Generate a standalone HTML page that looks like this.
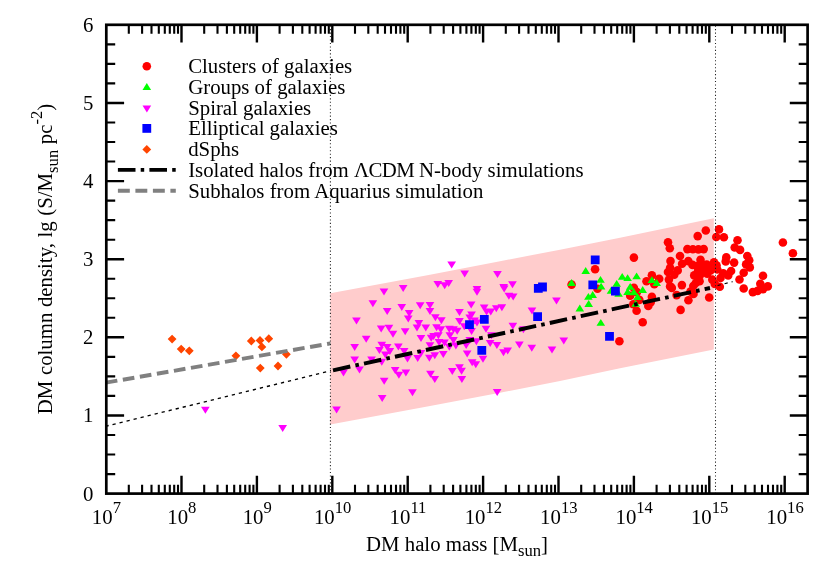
<!DOCTYPE html>
<html><head><meta charset="utf-8"><title>DM column density</title>
<style>
html,body{margin:0;padding:0;background:#fff}
svg{display:block;will-change:transform}
text{font-family:"Liberation Serif",serif;font-size:20.8px;fill:#000}
</style></head><body>
<svg width="830" height="581" viewBox="0 0 830 581">
<rect width="830" height="581" fill="#fff"/>
<polygon points="330.3,293.3 430,274.8 500,261.2 560,249.7 620,237.7 713.8,218.3 713.8,349.5 620,368.2 560,381 500,392.7 430,405.9 330.3,424.6" fill="#ffcccc"/>
<g fill="#ff0000"><circle cx="595.1" cy="269.2" r="4.3"/><circle cx="571.6" cy="284.6" r="4.3"/><circle cx="597.5" cy="288.8" r="4.3"/><circle cx="619.4" cy="341.3" r="4.3"/><circle cx="633.9" cy="257.6" r="4.3"/><circle cx="668" cy="242.2" r="4.3"/><circle cx="669.8" cy="248.3" r="4.3"/><circle cx="705.8" cy="230.5" r="4.3"/><circle cx="697.7" cy="236.1" r="4.3"/><circle cx="719" cy="229.4" r="4.3"/><circle cx="716.3" cy="237" r="4.3"/><circle cx="687.4" cy="249.1" r="4.3"/><circle cx="692.9" cy="249.3" r="4.3"/><circle cx="698.4" cy="249.4" r="4.3"/><circle cx="703.7" cy="249.1" r="4.3"/><circle cx="680" cy="256" r="4.3"/><circle cx="670.5" cy="261.1" r="4.3"/><circle cx="688.3" cy="261.1" r="4.3"/><circle cx="682.1" cy="263.8" r="4.3"/><circle cx="700.5" cy="259.8" r="4.3"/><circle cx="692.5" cy="264.9" r="4.3"/><circle cx="697.1" cy="266.1" r="4.3"/><circle cx="706.8" cy="264.5" r="4.3"/><circle cx="714" cy="262.3" r="4.3"/><circle cx="716.5" cy="265.3" r="4.3"/><circle cx="670.1" cy="267.8" r="4.3"/><circle cx="668" cy="272" r="4.3"/><circle cx="677.7" cy="270.4" r="4.3"/><circle cx="674.3" cy="274.6" r="4.3"/><circle cx="668.9" cy="279.6" r="4.3"/><circle cx="659.2" cy="278.8" r="4.3"/><circle cx="670.1" cy="286.4" r="4.3"/><circle cx="681.9" cy="285.1" r="4.3"/><circle cx="694.2" cy="275.4" r="4.3"/><circle cx="698" cy="271.2" r="4.3"/><circle cx="703" cy="269.5" r="4.3"/><circle cx="707.2" cy="273.7" r="4.3"/><circle cx="695.8" cy="283" r="4.3"/><circle cx="693.3" cy="286" r="4.3"/><circle cx="699.6" cy="281.3" r="4.3"/><circle cx="712.3" cy="279.6" r="4.3"/><circle cx="714.8" cy="283.9" r="4.3"/><circle cx="720.5" cy="278" r="4.3"/><circle cx="723.3" cy="273.2" r="4.3"/><circle cx="728.2" cy="275.5" r="4.3"/><circle cx="719.8" cy="286.8" r="4.3"/><circle cx="708.9" cy="267.8" r="4.3"/><circle cx="717.3" cy="269.5" r="4.3"/><circle cx="651.9" cy="275.2" r="4.3"/><circle cx="646.5" cy="281.3" r="4.3"/><circle cx="654.3" cy="284.3" r="4.3"/><circle cx="671.8" cy="287.9" r="4.3"/><circle cx="676.6" cy="295.1" r="4.3"/><circle cx="680.6" cy="309.9" r="4.3"/><circle cx="688.4" cy="300.2" r="4.3"/><circle cx="690.5" cy="291.5" r="4.3"/><circle cx="693.5" cy="293.9" r="4.3"/><circle cx="709.2" cy="297.5" r="4.3"/><circle cx="633.9" cy="287.9" r="4.3"/><circle cx="636.9" cy="292.1" r="4.3"/><circle cx="630.2" cy="295.7" r="4.3"/><circle cx="651.9" cy="296.9" r="4.3"/><circle cx="639.3" cy="299.9" r="4.3"/><circle cx="633.3" cy="304.2" r="4.3"/><circle cx="648.3" cy="306" r="4.3"/><circle cx="650.7" cy="302.3" r="4.3"/><circle cx="636.6" cy="310.8" r="4.3"/><circle cx="642.7" cy="322.2" r="4.3"/><circle cx="723.9" cy="237.3" r="4.3"/><circle cx="737.5" cy="240.3" r="4.3"/><circle cx="734.7" cy="247.5" r="4.3"/><circle cx="740.1" cy="249.9" r="4.3"/><circle cx="747.3" cy="256" r="4.3"/><circle cx="749.2" cy="260.2" r="4.3"/><circle cx="726.3" cy="257.2" r="4.3"/><circle cx="725.7" cy="261.4" r="4.3"/><circle cx="734.1" cy="262.6" r="4.3"/><circle cx="746.1" cy="264.4" r="4.3"/><circle cx="749.8" cy="267.4" r="4.3"/><circle cx="731.1" cy="271" r="4.3"/><circle cx="743.7" cy="272.8" r="4.3"/><circle cx="739.5" cy="279.5" r="4.3"/><circle cx="763" cy="275.8" r="4.3"/><circle cx="760.3" cy="283.7" r="4.3"/><circle cx="767.8" cy="286.4" r="4.3"/><circle cx="782.9" cy="242.5" r="4.3"/><circle cx="792.9" cy="253.3" r="4.3"/><circle cx="763" cy="289.1" r="4.3"/><circle cx="757.6" cy="290.9" r="4.3"/><circle cx="752.8" cy="292.1" r="4.3"/><circle cx="743.7" cy="288.5" r="4.3"/><circle cx="701.2" cy="263.5" r="4.3"/><circle cx="710.5" cy="270.5" r="4.3"/><circle cx="699.9" cy="275.3" r="4.3"/><circle cx="146.8" cy="66.3" r="4.3"/></g>
<g fill="#00ff00"><path d="M581.4 273.9h8.6l-4.3 -6.9zM567.3 285.9h8.6l-4.3 -6.9zM596.2 282.8h8.6l-4.3 -6.9zM596.8 289.6h8.6l-4.3 -6.9zM617.9 279.8h8.6l-4.3 -6.9zM623.3 281.1h8.6l-4.3 -6.9zM612.4 286.8h8.6l-4.3 -6.9zM606.7 293.8h8.6l-4.3 -6.9zM614.3 296.8h8.6l-4.3 -6.9zM623.3 294.9h8.6l-4.3 -6.9zM625.9 289.8h8.6l-4.3 -6.9zM588.4 297.9h8.6l-4.3 -6.9zM584.1 299.8h8.6l-4.3 -6.9zM584.4 306.9h8.6l-4.3 -6.9zM575.5 311.4h8.6l-4.3 -6.9zM596.5 325.8h8.6l-4.3 -6.9zM632.3 279.3h8.6l-4.3 -6.9zM647.6 283.1h8.6l-4.3 -6.9zM652.4 285.9h8.6l-4.3 -6.9zM638.4 292.9h8.6l-4.3 -6.9zM629.6 295.2h8.6l-4.3 -6.9zM633.2 300.1h8.6l-4.3 -6.9zM631.4 306.8h8.6l-4.3 -6.9z"/><path d="M142.5 89.9h8.6l-4.3 -6.9z"/></g>
<g fill="#ff00ff"><path d="M201 406.7h8.7l-4.3 7zM278.3 425.1h8.7l-4.3 7zM379.6 288.4h8.7l-4.3 7zM398.8 284.9h8.7l-4.3 7zM368.5 300.2h8.7l-4.3 7zM382.8 308.1h8.7l-4.3 7zM397.4 303.9h8.7l-4.3 7zM415.8 302.3h8.7l-4.3 7zM404.8 310.1h8.7l-4.3 7zM403.9 315.4h8.7l-4.3 7zM352.1 317.5h8.7l-4.3 7zM414.5 320h8.7l-4.3 7zM425.6 301.9h8.7l-4.3 7zM425.6 307.9h8.7l-4.3 7zM376.8 325.4h8.7l-4.3 7zM384.6 324.8h8.7l-4.3 7zM388.6 330.8h8.7l-4.3 7zM400.8 328.2h8.7l-4.3 7zM412.6 324.5h8.7l-4.3 7zM421.4 324.5h8.7l-4.3 7zM416.6 335.1h8.7l-4.3 7zM361.8 335.7h8.7l-4.3 7zM350.3 344.1h8.7l-4.3 7zM377.4 341.7h8.7l-4.3 7zM382.8 344.1h8.7l-4.3 7zM375 347.1h8.7l-4.3 7zM385.5 348h8.7l-4.3 7zM381 351.6h8.7l-4.3 7zM394 343.5h8.7l-4.3 7zM399.8 348h8.7l-4.3 7zM350.3 356.4h8.7l-4.3 7zM367.2 356.4h8.7l-4.3 7zM377.4 358.8h8.7l-4.3 7zM403.1 355.5h8.7l-4.3 7zM413.3 354.9h8.7l-4.3 7zM416.6 350.1h8.7l-4.3 7zM425 354.8h8.7l-4.3 7zM355.1 366.4h8.7l-4.3 7zM339.1 369.4h8.7l-4.3 7zM390.8 367h8.7l-4.3 7zM394.5 371.8h8.7l-4.3 7zM401.5 369.4h8.7l-4.3 7zM379.8 377.8h8.7l-4.3 7zM408.1 389.2h8.7l-4.3 7zM377.8 395.1h8.7l-4.3 7zM332.2 406.5h8.7l-4.3 7zM447.3 261.4h8.7l-4.3 7zM460.3 270.5h8.7l-4.3 7zM493.1 271.1h8.7l-4.3 7zM433.4 281.1h8.7l-4.3 7zM440.3 282.3h8.7l-4.3 7zM444.3 280.1h8.7l-4.3 7zM472.6 285.9h8.7l-4.3 7zM472.6 288.8h8.7l-4.3 7zM508.1 281.3h8.7l-4.3 7zM499.3 284h8.7l-4.3 7zM499.8 285.5h8.7l-4.3 7zM504.5 292.8h8.7l-4.3 7zM508.8 293.4h8.7l-4.3 7zM466.8 301.6h8.7l-4.3 7zM455.1 309h8.7l-4.3 7zM479.8 304.5h8.7l-4.3 7zM482.2 308.4h8.7l-4.3 7zM486.4 308.4h8.7l-4.3 7zM491.9 305.2h8.7l-4.3 7zM497.5 304.2h8.7l-4.3 7zM467.2 311.4h8.7l-4.3 7zM465.4 314.5h8.7l-4.3 7zM431 314.2h8.7l-4.3 7zM437 317.2h8.7l-4.3 7zM455.1 318h8.7l-4.3 7zM470.2 317.5h8.7l-4.3 7zM527.6 307.5h8.7l-4.3 7zM472.6 319.6h8.7l-4.3 7zM432.2 324.2h8.7l-4.3 7zM436.4 326.3h8.7l-4.3 7zM444.9 325.7h8.7l-4.3 7zM449.1 326.3h8.7l-4.3 7zM452.8 327.8h8.7l-4.3 7zM445.5 332.3h8.7l-4.3 7zM459.9 323.3h8.7l-4.3 7zM467.2 328h8.7l-4.3 7zM481.6 325.7h8.7l-4.3 7zM508.5 322.7h8.7l-4.3 7zM519 326.3h8.7l-4.3 7zM487 332.3h8.7l-4.3 7zM429.2 332.9h8.7l-4.3 7zM426.8 334.7h8.7l-4.3 7zM434 332.3h8.7l-4.3 7zM434.6 338.9h8.7l-4.3 7zM440.1 339.5h8.7l-4.3 7zM449.1 337.1h8.7l-4.3 7zM444.9 343.7h8.7l-4.3 7zM451.5 342.5h8.7l-4.3 7zM461.8 341.9h8.7l-4.3 7zM465.4 337.1h8.7l-4.3 7zM472 338.3h8.7l-4.3 7zM485.8 340.1h8.7l-4.3 7zM492.5 341.9h8.7l-4.3 7zM515 341.6h8.7l-4.3 7zM527.4 344.8h8.7l-4.3 7zM438.9 351h8.7l-4.3 7zM430.4 352.2h8.7l-4.3 7zM462.8 350.4h8.7l-4.3 7zM499.1 349.2h8.7l-4.3 7zM503.3 347.6h8.7l-4.3 7zM478.6 355.8h8.7l-4.3 7zM467.8 359.2h8.7l-4.3 7zM471.4 361.2h8.7l-4.3 7zM455.1 364.2h8.7l-4.3 7zM447.9 368.1h8.7l-4.3 7zM457.2 367.8h8.7l-4.3 7zM426.1 370.7h8.7l-4.3 7zM430.4 376h8.7l-4.3 7zM457.5 376h8.7l-4.3 7zM425.6 342.3h8.7l-4.3 7zM492.8 389h8.7l-4.3 7zM552.1 297.6h8.7l-4.3 7zM559.4 337.6h8.7l-4.3 7zM547.6 346.4h8.7l-4.3 7z"/><path d="M142.5 105.4h8.7l-4.3 7z"/></g>
<g fill="#0000ff"><path d="M479.9 315h8.8v8.8h-8.8zM465.1 320.2h8.8v8.8h-8.8zM477.4 346h8.8v8.8h-8.8zM590.8 255.5h8.8v8.8h-8.8zM533.9 284h8.8v8.8h-8.8zM538.1 282.6h8.8v8.8h-8.8zM588.4 280.5h8.8v8.8h-8.8zM611 286.8h8.8v8.8h-8.8zM533.2 312.2h8.8v8.8h-8.8zM605.1 332h8.8v8.8h-8.8z"/><path d="M142.4 124h8.8v8.8h-8.8z"/></g>
<g fill="#ff4500"><path d="M172.1 334.7l4.4 4.4l-4.4 4.4l-4.4 -4.4zM181.2 344.7l4.4 4.4l-4.4 4.4l-4.4 -4.4zM189.3 346.4l4.4 4.4l-4.4 4.4l-4.4 -4.4zM235.9 351.4l4.4 4.4l-4.4 4.4l-4.4 -4.4zM251.3 336.6l4.4 4.4l-4.4 4.4l-4.4 -4.4zM260 336l4.4 4.4l-4.4 4.4l-4.4 -4.4zM268.8 334.3l4.4 4.4l-4.4 4.4l-4.4 -4.4zM261.9 342.5l4.4 4.4l-4.4 4.4l-4.4 -4.4zM286.4 349.9l4.4 4.4l-4.4 4.4l-4.4 -4.4zM260.3 363.7l4.4 4.4l-4.4 4.4l-4.4 -4.4zM278 361.6l4.4 4.4l-4.4 4.4l-4.4 -4.4z"/><path d="M146.8 145l4.4 4.4l-4.4 4.4l-4.4 -4.4z"/></g>
<g fill="none">
<path d="M105.5 426.3L331 370.7" stroke="#000" stroke-width="1.35" stroke-dasharray="3.25 3.976"/>
<path d="M717.6 285.5L732.6 281.7" stroke="#000" stroke-width="1.2" stroke-dasharray="3.2 4"/>
<path d="M105.8 382.7L330.6 343.4" stroke="#808080" stroke-width="3.9" stroke-dasharray="11.7 5.58"/>
<path d="M333 370.3L710 288" stroke="#000" stroke-width="3.9" stroke-dasharray="17.7 5.2 3.6 5.2"/>
<path d="M117.9 169.9H175.8" stroke="#000" stroke-width="3.9" stroke-dasharray="17.6 5.2 3.5 5.2"/>
<path d="M117.9 190.7H175.8" stroke="#808080" stroke-width="3.9" stroke-dasharray="11.9 5.6"/>
<path d="M330.4 25.63V493.6M715.5 25.63V493.6" stroke="#222" stroke-width="1.05" stroke-dasharray="1.1 2.36"/>
<path d="M181.5 493.6v-17.8 M181.5 24.8v17.8 M256.9 493.6v-17.8 M256.9 24.8v17.8 M332.3 493.6v-17.8 M332.3 24.8v17.8 M407.7 493.6v-17.8 M407.7 24.8v17.8 M483.1 493.6v-17.8 M483.1 24.8v17.8 M558.5 493.6v-17.8 M558.5 24.8v17.8 M633.9 493.6v-17.8 M633.9 24.8v17.8 M709.3 493.6v-17.8 M709.3 24.8v17.8 M784.7 493.6v-17.8 M784.7 24.8v17.8 M106.3 415.5h17.8 M807.6 415.5h-17.8 M106.3 337.3h17.8 M807.6 337.3h-17.8 M106.3 259.2h17.8 M807.6 259.2h-17.8 M106.3 181.1h17.8 M807.6 181.1h-17.8 M106.3 103h17.8 M807.6 103h-17.8" stroke="#000" stroke-width="2.4"/>
<path d="M128.8 493.6v-8.9 M128.8 24.8v8.9 M142.1 493.6v-8.9 M142.1 24.8v8.9 M151.5 493.6v-8.9 M151.5 24.8v8.9 M158.8 493.6v-8.9 M158.8 24.8v8.9 M164.8 493.6v-8.9 M164.8 24.8v8.9 M169.8 493.6v-8.9 M169.8 24.8v8.9 M174.2 493.6v-8.9 M174.2 24.8v8.9 M178 493.6v-8.9 M178 24.8v8.9 M204.2 493.6v-8.9 M204.2 24.8v8.9 M217.5 493.6v-8.9 M217.5 24.8v8.9 M226.9 493.6v-8.9 M226.9 24.8v8.9 M234.2 493.6v-8.9 M234.2 24.8v8.9 M240.2 493.6v-8.9 M240.2 24.8v8.9 M245.2 493.6v-8.9 M245.2 24.8v8.9 M249.6 493.6v-8.9 M249.6 24.8v8.9 M253.4 493.6v-8.9 M253.4 24.8v8.9 M279.6 493.6v-8.9 M279.6 24.8v8.9 M292.9 493.6v-8.9 M292.9 24.8v8.9 M302.3 493.6v-8.9 M302.3 24.8v8.9 M309.6 493.6v-8.9 M309.6 24.8v8.9 M315.6 493.6v-8.9 M315.6 24.8v8.9 M320.6 493.6v-8.9 M320.6 24.8v8.9 M325 493.6v-8.9 M325 24.8v8.9 M328.8 493.6v-8.9 M328.8 24.8v8.9 M355 493.6v-8.9 M355 24.8v8.9 M368.3 493.6v-8.9 M368.3 24.8v8.9 M377.7 493.6v-8.9 M377.7 24.8v8.9 M385 493.6v-8.9 M385 24.8v8.9 M391 493.6v-8.9 M391 24.8v8.9 M396 493.6v-8.9 M396 24.8v8.9 M400.4 493.6v-8.9 M400.4 24.8v8.9 M404.2 493.6v-8.9 M404.2 24.8v8.9 M430.4 493.6v-8.9 M430.4 24.8v8.9 M443.7 493.6v-8.9 M443.7 24.8v8.9 M453.1 493.6v-8.9 M453.1 24.8v8.9 M460.4 493.6v-8.9 M460.4 24.8v8.9 M466.4 493.6v-8.9 M466.4 24.8v8.9 M471.4 493.6v-8.9 M471.4 24.8v8.9 M475.8 493.6v-8.9 M475.8 24.8v8.9 M479.6 493.6v-8.9 M479.6 24.8v8.9 M505.8 493.6v-8.9 M505.8 24.8v8.9 M519.1 493.6v-8.9 M519.1 24.8v8.9 M528.5 493.6v-8.9 M528.5 24.8v8.9 M535.8 493.6v-8.9 M535.8 24.8v8.9 M541.8 493.6v-8.9 M541.8 24.8v8.9 M546.8 493.6v-8.9 M546.8 24.8v8.9 M551.2 493.6v-8.9 M551.2 24.8v8.9 M555 493.6v-8.9 M555 24.8v8.9 M581.2 493.6v-8.9 M581.2 24.8v8.9 M594.5 493.6v-8.9 M594.5 24.8v8.9 M603.9 493.6v-8.9 M603.9 24.8v8.9 M611.2 493.6v-8.9 M611.2 24.8v8.9 M617.2 493.6v-8.9 M617.2 24.8v8.9 M622.2 493.6v-8.9 M622.2 24.8v8.9 M626.6 493.6v-8.9 M626.6 24.8v8.9 M630.4 493.6v-8.9 M630.4 24.8v8.9 M656.6 493.6v-8.9 M656.6 24.8v8.9 M669.9 493.6v-8.9 M669.9 24.8v8.9 M679.3 493.6v-8.9 M679.3 24.8v8.9 M686.6 493.6v-8.9 M686.6 24.8v8.9 M692.6 493.6v-8.9 M692.6 24.8v8.9 M697.6 493.6v-8.9 M697.6 24.8v8.9 M702 493.6v-8.9 M702 24.8v8.9 M705.8 493.6v-8.9 M705.8 24.8v8.9 M732 493.6v-8.9 M732 24.8v8.9 M745.3 493.6v-8.9 M745.3 24.8v8.9 M754.7 493.6v-8.9 M754.7 24.8v8.9 M762 493.6v-8.9 M762 24.8v8.9 M768 493.6v-8.9 M768 24.8v8.9 M773 493.6v-8.9 M773 24.8v8.9 M777.4 493.6v-8.9 M777.4 24.8v8.9 M781.2 493.6v-8.9 M781.2 24.8v8.9 M106.3 474.1h8.9 M807.6 474.1h-8.9 M106.3 454.5h8.9 M807.6 454.5h-8.9 M106.3 435h8.9 M807.6 435h-8.9 M106.3 395.9h8.9 M807.6 395.9h-8.9 M106.3 376.4h8.9 M807.6 376.4h-8.9 M106.3 356.9h8.9 M807.6 356.9h-8.9 M106.3 317.8h8.9 M807.6 317.8h-8.9 M106.3 298.3h8.9 M807.6 298.3h-8.9 M106.3 278.7h8.9 M807.6 278.7h-8.9 M106.3 239.7h8.9 M807.6 239.7h-8.9 M106.3 220.1h8.9 M807.6 220.1h-8.9 M106.3 200.6h8.9 M807.6 200.6h-8.9 M106.3 161.5h8.9 M807.6 161.5h-8.9 M106.3 142h8.9 M807.6 142h-8.9 M106.3 122.5h8.9 M807.6 122.5h-8.9 M106.3 83.4h8.9 M807.6 83.4h-8.9 M106.3 63.9h8.9 M807.6 63.9h-8.9 M106.3 44.4h8.9 M807.6 44.4h-8.9" stroke="#000" stroke-width="2.1"/>
<rect x="106.3" y="24.8" width="701.3" height="468.8" stroke="#000" stroke-width="2.7"/>
</g>
<text x="106.4" y="523.5" text-anchor="middle">10<tspan dy="-10.3" font-size="16.6">7</tspan></text><text x="181.8" y="523.5" text-anchor="middle">10<tspan dy="-10.3" font-size="16.6">8</tspan></text><text x="257.2" y="523.5" text-anchor="middle">10<tspan dy="-10.3" font-size="16.6">9</tspan></text><text x="332.6" y="523.5" text-anchor="middle">10<tspan dy="-10.3" font-size="16.6">10</tspan></text><text x="408" y="523.5" text-anchor="middle">10<tspan dy="-10.3" font-size="16.6">11</tspan></text><text x="483.4" y="523.5" text-anchor="middle">10<tspan dy="-10.3" font-size="16.6">12</tspan></text><text x="558.8" y="523.5" text-anchor="middle">10<tspan dy="-10.3" font-size="16.6">13</tspan></text><text x="634.2" y="523.5" text-anchor="middle">10<tspan dy="-10.3" font-size="16.6">14</tspan></text><text x="709.6" y="523.5" text-anchor="middle">10<tspan dy="-10.3" font-size="16.6">15</tspan></text><text x="785" y="523.5" text-anchor="middle">10<tspan dy="-10.3" font-size="16.6">16</tspan></text>
<text x="93.5" y="500.5" text-anchor="end">0</text><text x="93.5" y="422.4" text-anchor="end">1</text><text x="93.5" y="344.2" text-anchor="end">2</text><text x="93.5" y="266.1" text-anchor="end">3</text><text x="93.5" y="188" text-anchor="end">4</text><text x="93.5" y="109.9" text-anchor="end">5</text><text x="93.5" y="31.7" text-anchor="end">6</text>
<text x="188.2" y="73.2">Clusters of galaxies</text><text x="188.2" y="93.9">Groups of galaxies</text><text x="188.2" y="114.6">Spiral galaxies</text><text x="188.2" y="135.3">Elliptical galaxies</text><text x="188.2" y="156">dSphs</text><text x="188.2" y="176.8">Isolated halos from <tspan letter-spacing="-0.55">ΛCDM </tspan>N-body simulations</text><text x="188.2" y="197.6">Subhalos from Aquarius simulation</text>
<text x="457" y="550.5" text-anchor="middle">DM halo mass [M<tspan dy="5.8" font-size="16.6">sun</tspan><tspan dy="-5.8">]</tspan></text>
<text transform="translate(52.3 259) rotate(-90)" text-anchor="middle" word-spacing="0.45">DM column density, lg (S/M<tspan dy="5.8" font-size="16.6">sun</tspan><tspan dy="-5.8"> pc</tspan><tspan dy="-10.3" font-size="16.6">-2</tspan><tspan dy="10.3">)</tspan></text>
</svg>
</body></html>
